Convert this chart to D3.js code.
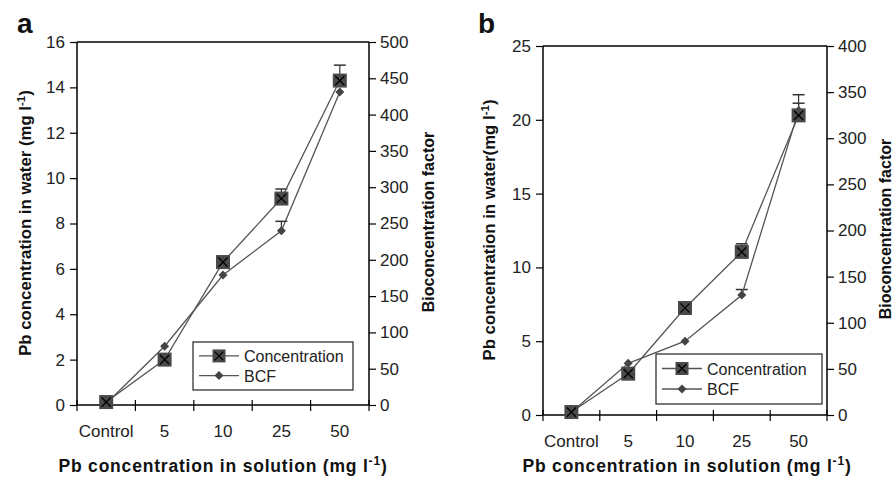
<!DOCTYPE html>
<html>
<head>
<meta charset="utf-8">
<title>Pb concentration and BCF</title>
<style>
    body { margin: 0; background: #fff; }
    svg { display: block; font-family: "Liberation Sans", Arial, sans-serif; }
    .tick-label { font-size: 17px; fill: #222; }
    .title { font-weight: bold; fill: #111; }
    .legend text { font-size: 16px; fill: #222; }
</style>
<script src="https://cdn.jsdelivr.net/npm/d3@7"></script>
</head>
<body>
<svg id="chart" width="894" height="477"></svg>
<script>
var categories = ['Control', '5', '10', '25', '50'];

// panel a
var concA = [0.13, 2.0, 6.3, 9.1, 14.3];
var concErrA = [0.13, 2.0, 6.55, 9.52, 14.98];
var bcfA = [2, 81, 179, 240, 431];
var bcfErrA = [2, 81, 179, 253, 431];
var leftTicksA = [0, 2, 4, 6, 8, 10, 12, 14, 16];
var rightTicksA = [0, 50, 100, 150, 200, 250, 300, 350, 400, 450, 500];

// panel b
var concB = [0.2, 2.8, 7.25, 11.05, 20.3];
var concErrB = [0.2, 2.8, 7.25, 11.6, 21.7];
var bcfB = [3, 56, 80, 130, 330];
var bcfErrB = [3, 56, 80, 136, 338];
var leftTicksB = [0, 5, 10, 15, 20, 25];
var rightTicksB = [0, 50, 100, 150, 200, 250, 300, 350, 400];

var svg = d3.select('#chart');

function drawPanel(p) {
    var g = svg.append('g');

    var x = d3.scaleBand().domain(categories).range([p.left, p.right]).padding(0);
    var yL = d3.scaleLinear().domain([0, d3.max(p.leftTicks)]).range([p.bottom, p.top]);
    var yR = d3.scaleLinear().domain([0, d3.max(p.rightTicks)]).range([p.bottom, p.top]);
    var cx = function(i) { return x(categories[i]) + x.bandwidth() / 2; };

    // frame top
    g.append('line')
        .attr('x1', p.left).attr('x2', p.right)
        .attr('y1', p.top).attr('y2', p.top)
        .attr('stroke', '#000').attr('stroke-width', 1.5);

    // left axis
    var left = g.append('g').attr('transform', 'translate(' + p.left + ',0)')
        .call(d3.axisLeft(yL).tickValues(p.leftTicks).tickSize(7).tickPadding(5));
    // right axis
    var right = g.append('g').attr('transform', 'translate(' + p.right + ',0)')
        .call(d3.axisRight(yR).tickValues(p.rightTicks).tickSize(7).tickPadding(4));
    // bottom axis: labels only, ticks drawn at band edges
    var bottom = g.append('g').attr('transform', 'translate(0,' + p.bottom + ')')
        .call(d3.axisBottom(x).tickSize(0).tickPadding(p.labelPad));

    [left, right, bottom].forEach(function(a) {
        a.select('.domain').attr('stroke', '#000').attr('stroke-width', 1.5);
        a.selectAll('.tick line').attr('stroke', '#000').attr('stroke-width', 1.2);
        a.selectAll('.tick text').attr('class', 'tick-label').attr('font-size', null).attr('font-family', null);
    });
    bottom.select('.domain').attr('d', 'M' + p.left + ',0H' + p.right);
    left.select('.domain').attr('d', 'M0,' + p.top + 'V' + p.bottom);
    right.select('.domain').attr('d', 'M0,' + p.top + 'V' + p.bottom);

    var edges = categories.map(function(c) { return x(c); }).concat([p.right]);
    g.selectAll('.xedge').data(edges).enter().append('line')
        .attr('x1', function(d) { return d; }).attr('x2', function(d) { return d; })
        .attr('y1', p.bottom - 5).attr('y2', p.bottom + 6)
        .attr('stroke', '#000').attr('stroke-width', 1.2);

    // error bars (upper)
    function errBars(vals, errs, scale) {
        vals.forEach(function(v, i) {
            if (errs[i] - v < 0.001) return;
            var xx = cx(i), y0 = scale(v), y1 = scale(errs[i]);
            g.append('line').attr('x1', xx).attr('x2', xx).attr('y1', y0).attr('y2', y1)
                .attr('stroke', '#333').attr('stroke-width', 1.2);
            g.append('line').attr('x1', xx - 6).attr('x2', xx + 6).attr('y1', y1).attr('y2', y1)
                .attr('stroke', '#333').attr('stroke-width', 1.5);
        });
    }
    errBars(p.conc, p.concErr, yL);
    errBars(p.bcf, p.bcfErr, yR);

    // lines
    var lineL = d3.line().x(function(d, i) { return cx(i); }).y(function(d) { return yL(d); });
    var lineR = d3.line().x(function(d, i) { return cx(i); }).y(function(d) { return yR(d); });
    g.append('path').attr('d', lineL(p.conc)).attr('fill', 'none').attr('stroke', '#555').attr('stroke-width', 1.3);
    g.append('path').attr('d', lineR(p.bcf)).attr('fill', 'none').attr('stroke', '#555').attr('stroke-width', 1.3);

    function square(sel, xx, yy, s) {
        sel.append('rect').attr('x', xx - s / 2).attr('y', yy - s / 2).attr('width', s).attr('height', s)
            .attr('fill', '#4a4a4a');
        var h = s * 0.33;
        sel.append('path').attr('d', 'M' + (xx - h) + ',' + (yy - h) + 'L' + (xx + h) + ',' + (yy + h) +
            'M' + (xx + h) + ',' + (yy - h) + 'L' + (xx - h) + ',' + (yy + h))
            .attr('stroke', '#000').attr('stroke-width', 1.3);
    }
    function diamond(sel, xx, yy, s) {
        sel.append('path').attr('d', 'M' + xx + ',' + (yy - s) + 'L' + (xx + s) + ',' + yy + 'L' + xx + ',' + (yy + s) +
            'L' + (xx - s) + ',' + yy + 'Z').attr('fill', '#444');
    }

    p.bcf.forEach(function(v, i) { diamond(g, cx(i), yR(v), 4.5); });
    p.conc.forEach(function(v, i) { square(g, cx(i), yL(v), 14); });

    // legend
    var lg = g.append('g').attr('class', 'legend');
    lg.append('rect').attr('x', p.leg[0]).attr('y', p.leg[1]).attr('width', p.leg[2]).attr('height', p.leg[3])
        .attr('fill', '#fff').attr('stroke', '#222').attr('stroke-width', 1.2);
    var lx = p.leg[0] + 6, r1 = p.leg[1] + p.leg[3] * 0.29, r2 = p.leg[1] + p.leg[3] * 0.7;
    [r1, r2].forEach(function(ry) {
        lg.append('line').attr('x1', lx).attr('x2', lx + 40).attr('y1', ry).attr('y2', ry)
            .attr('stroke', '#555').attr('stroke-width', 1.3);
    });
    square(lg, lx + 20, r1, 13);
    diamond(lg, lx + 20, r2, 4.5);
    lg.append('text').attr('x', lx + 45).attr('y', r1 + 6).text('Concentration');
    lg.append('text').attr('x', lx + 45).attr('y', r2 + 6).text('BCF');

    // titles
    var xt = g.append('text').attr('class', 'title').attr('x', (p.left + p.right) / 2 + p.xTitleShift)
        .attr('y', p.xTitleY).attr('text-anchor', 'middle')
        .attr('font-size', 17.5).attr('letter-spacing', 0.8);
    xt.append('tspan').text('Pb concentration in solution (mg l');
    xt.append('tspan').attr('dy', -7).attr('font-size', 12).text('-1');
    xt.append('tspan').attr('dy', 7).text(')');

    var yt = g.append('text').attr('class', 'title').attr('text-anchor', 'middle').attr('font-size', 16.8)
        .attr('transform', 'translate(' + p.yTitle[0] + ',' + p.yTitle[1] + ') rotate(-90)');
    yt.append('tspan').text(p.yTitleText);
    yt.append('tspan').attr('dy', -6).attr('font-size', 11.5).text('-1');
    yt.append('tspan').attr('dy', 6).text(')');

    g.append('text').attr('class', 'title').attr('text-anchor', 'middle').attr('font-size', 16)
        .attr('transform', 'translate(' + p.rTitle[0] + ',' + p.rTitle[1] + ') rotate(-90)')
        .text('Bioconcentration factor');

    g.append('text').attr('x', p.label[0]).attr('y', p.label[1])
        .attr('font-size', 28).attr('font-weight', 'bold').attr('fill', '#111').text(p.labelText);
}

drawPanel({
    left: 77, right: 369, top: 42, bottom: 405, labelPad: 20,
    conc: concA, concErr: concErrA, bcf: bcfA, bcfErr: bcfErrA,
    leftTicks: leftTicksA, rightTicks: rightTicksA,
    leg: [193, 342, 160, 48],
    xTitleY: 472, xTitleShift: 0,
    yTitle: [31, 223], yTitleText: 'Pb concentration in water (mg l',
    rTitle: [434, 222],
    label: [17, 33], labelText: 'a'
});

drawPanel({
    left: 543, right: 827, top: 46, bottom: 415, labelPad: 20,
    conc: concB, concErr: concErrB, bcf: bcfB, bcfErr: bcfErrB,
    leftTicks: leftTicksB, rightTicks: rightTicksB,
    leg: [656, 354, 166, 50],
    xTitleY: 472, xTitleShift: 2,
    yTitle: [495, 230], yTitleText: 'Pb concentration in water(mg l',
    rTitle: [891, 229],
    label: [478, 33], labelText: 'b'
});
</script>
</body>
</html>
